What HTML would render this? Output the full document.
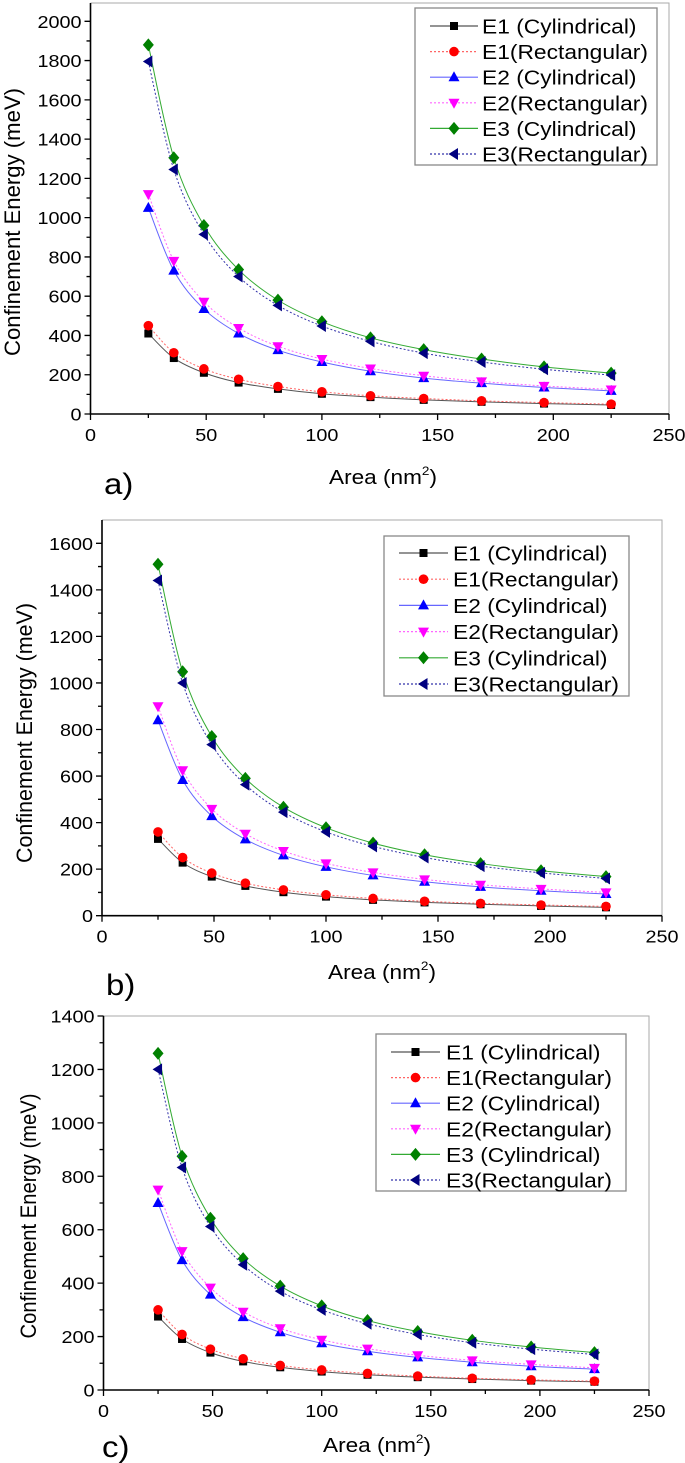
<!DOCTYPE html>
<html><head><meta charset="utf-8"><style>
html,body{margin:0;padding:0;background:#fff;}
svg{display:block;font-family:"Liberation Sans",Arial,sans-serif;}
</style></head><body>
<svg id="fig" width="685" height="1463" viewBox="0 0 685 1463" xmlns="http://www.w3.org/2000/svg"></svg>
<script>
const areas = [25,36,49,64,81,100,121,144,169,196,225];
const seriesNames = ["E1 (Cylindrical)","E1(Rectangular)","E2 (Cylindrical)","E2(Rectangular)","E3 (Cylindrical)","E3(Rectangular)"];
const a_E1C = [410,285,210,160,128,103,86,72,62,53,46];
const a_E1R = [450,312,230,177,140,113,93,79,67,58,50];
const a_E2C = [1050,730,535,410,325,265,218,183,157,135,118];
const a_E2R = [1120,780,572,438,345,280,232,195,166,143,125];
const a_E3C = [1880,1305,960,735,580,470,388,328,280,240,208];
const a_E3R = [1795,1245,915,700,553,448,370,310,265,228,198];
const b_E1C = [330,228,168,128,101,82,68,57,49,42,36];
const b_E1R = [360,250,183,140,111,90,74,62,53,46,40];
const b_E2C = [840,583,428,328,259,210,173,146,124,107,93];
const b_E2R = [900,625,459,352,278,225,186,156,133,115,100];
const b_E3C = [1510,1048,770,590,466,378,312,262,224,193,168];
const b_E3R = [1440,1000,735,563,445,360,298,250,213,184,160];
const c_E1C = [275,191,140,107,85,69,57,48,41,35,31];
const c_E1R = [300,208,153,117,92,75,62,52,44,38,33];
const c_E2C = [700,486,357,273,216,175,145,122,104,89,78];
const c_E2R = [750,520,383,293,231,188,155,130,111,96,83];
const c_E3C = [1260,875,643,492,389,315,260,219,186,161,140];
const c_E3R = [1200,833,612,469,370,300,248,208,177,153,133];
const xTicks = [0,50,100,150,200,250];
const a_yTicks = [0,200,400,600,800,1000,1200,1400,1600,1800,2000];
const b_yTicks = [0,200,400,600,800,1000,1200,1400,1600];
const c_yTicks = [0,200,400,600,800,1000,1200,1400];

const NS="http://www.w3.org/2000/svg";
const svg=document.getElementById('fig');
function mk(tag,attrs,parent){const e=document.createElementNS(NS,tag);for(const k in attrs)e.setAttribute(k,attrs[k]);(parent||svg).appendChild(e);return e;}
function txt(parent,x,y,s,size,anchor,sx,name){
  const t=mk('text',{x:0,y:0,'font-size':size,'text-anchor':anchor||'start',fill:'#000',transform:`translate(${x},${y}) scale(${sx||1.13},1)`},parent);
  t.textContent=s;
  
  
  return t;
}
const styles=[
 {color:'#000',line:'#555',dash:'',marker:'square'},
 {color:'#f00',line:'#f66',dash:'2,2',marker:'circle'},
 {color:'#00f',line:'#66f',dash:'',marker:'tri-up'},
 {color:'#f0f',line:'#f6f',dash:'2,2',marker:'tri-down'},
 {color:'#008000',line:'#3a3',dash:'',marker:'diamond'},
 {color:'#000080',line:'#33a',dash:'2,2',marker:'tri-left'}
];
const keys=['e1-cyl','e1-rect','e2-cyl','e2-rect','e3-cyl','e3-rect'];
function marker(g,m,x,y,c){
  let e;
  if(m==='square')e=mk('rect',{x:x-4,y:y-4,width:8,height:8,fill:c},g);
  else if(m==='circle')e=mk('circle',{cx:x,cy:y,r:4.8,fill:c},g);
  else if(m==='tri-up')e=mk('polygon',{points:`${x},${y-6} ${x-5.5},${y+4} ${x+5.5},${y+4}`,fill:c},g);
  else if(m==='tri-down')e=mk('polygon',{points:`${x},${y+6} ${x-5.5},${y-4} ${x+5.5},${y-4}`,fill:c},g);
  else if(m==='diamond')e=mk('polygon',{points:`${x},${y-6.5} ${x+5.5},${y} ${x},${y+6.5} ${x-5.5},${y}`,fill:c},g);
  else e=mk('polygon',{points:`${x-5.5},${y} ${x+4},${y-6} ${x+4},${y+6}`,fill:c},g);
  return e;
}
function smooth(pts){
  let d=`M${pts[0][0]},${pts[0][1]}`;
  for(let i=0;i<pts.length-1;i++){
    const p0=pts[Math.max(0,i-1)],p1=pts[i],p2=pts[i+1],p3=pts[Math.min(pts.length-1,i+2)];
    const c1=[p1[0]+(p2[0]-p0[0])/6,p1[1]+(p2[1]-p0[1])/6];
    const c2=[p2[0]-(p3[0]-p1[0])/6,p2[1]-(p3[1]-p1[1])/6];
    d+=` C${c1[0]},${c1[1]} ${c2[0]},${c2[1]} ${p2[0]},${p2[1]}`;
  }
  return d;
}
function panel(cfg){
  const g=mk('g',{});
  
  
  const X=v=>cfg.x0+(v-0)*(cfg.x1-cfg.x0)/250;
  const Y=v=>cfg.y0-(v)*(cfg.y0-cfg.yTop)/cfg.yMax;
  const top=cfg.frameTop;
  const fr=mk('path',{d:`M${cfg.x0},${top} H${cfg.x1} V${cfg.y0}`,stroke:'#aaa','stroke-width':1,fill:'none'},g);
  
  
  cfg.series.forEach((vals,si)=>{
    const st=styles[si];
    const sg=mk('g',{},g);
    
    
    const pts=areas.map((a,i)=>[X(a),Y(vals[i])]);
    const p=mk('path',{d:smooth(pts),stroke:st.line,'stroke-width':1,fill:'none','stroke-dasharray':st.dash},sg);
    
    
    pts.forEach(pt=>{
      const m=marker(sg,st.marker,pt[0],pt[1],st.color);
      
      
    });
  });
  const ax=mk('path',{d:`M${cfg.x0},${top} V${cfg.y0} H${cfg.x1}`,stroke:'#000','stroke-width':1.6,fill:'none'},g);
  
  
  let td='';
  for(let v=0;v<=250;v+=25){td+=`M${X(v)},${cfg.y0} v${v%50===0?6:4} `;}
  for(let v=0;v<=cfg.yMax+1;v+=100){td+=`M${cfg.x0},${Y(v)} h${v%200===0?-6:-4} `;}
  const tk=mk('path',{d:td,stroke:'#000','stroke-width':1.3},g);
  
  
  xTicks.forEach(v=>txt(g,X(v),cfg.y0+27,String(v),18,'middle',1.1,'x-tick-label'));
  cfg.yTicks.forEach(v=>txt(g,cfg.x0-9,Y(v)+6.5,String(v),18,'end',1.1,'y-tick-label'));
  const yt=mk('text',{x:0,y:0,'font-size':22,'text-anchor':'middle',transform:`translate(${cfg.ytx},${cfg.yty}) rotate(-90)`,textLength:cfg.ytLen,lengthAdjust:'spacingAndGlyphs'},g);
  yt.textContent='Confinement Energy (meV)';
  
  
  const xt=mk('text',{x:0,y:0,'font-size':20,'text-anchor':'middle',transform:`translate(${cfg.xtx},${cfg.xty}) scale(1.13,1)`},g);
  xt.innerHTML='Area (nm<tspan dy="-9" font-size="12">2</tspan><tspan dy="9">)</tspan>';
  
  
  txt(g,cfg.lblx,cfg.lbly,cfg.id+')',30,'start',1.1,'panel-label');
  const L=cfg.leg;
  const lg=mk('g',{},g);
  
  
  const box=mk('rect',{x:L.x,y:L.y,width:L.w,height:L.h,fill:'#fff',stroke:'#888','stroke-width':1.3},lg);
  
  
  seriesNames.forEach((n,i)=>{
    const st=styles[i];const ry=L.y+L.r0+i*L.dy;
    const eg=mk('g',{},lg);
    
    
    mk('line',{x1:L.lx0,x2:L.lx1,y1:ry,y2:ry,stroke:st.line,'stroke-width':1.2,'stroke-dasharray':st.dash},eg);
    marker(eg,st.marker,(L.lx0+L.lx1)/2,ry,st.color);
    txt(eg,L.tx,ry+7.5,n,20,'start',1.14,'legend-label');
  });
}
panel({id:'a',x0:90.5,x1:669,y0:414,yTop:21.3,yMax:2000,frameTop:3,yTicks:a_yTicks,series:[a_E1C,a_E1R,a_E2C,a_E2R,a_E3C,a_E3R],
  ytx:20,yty:222,ytLen:268,xtx:383,xty:484,lblx:104,lbly:494,
  leg:{x:415,y:8,w:242,h:157,r0:18,dy:25.6,lx0:430,lx1:478,tx:482}});
panel({id:'b',x0:102,x1:662,y0:915.7,yTop:543.3,yMax:1600,frameTop:520,yTicks:b_yTicks,series:[b_E1C,b_E1R,b_E2C,b_E2R,b_E3C,b_E3R],
  ytx:32,yty:733,ytLen:260,xtx:382,xty:979,lblx:106,lbly:995,
  leg:{x:384,y:536,w:245,h:160,r0:17,dy:26.2,lx0:399,lx1:448,tx:453}});
panel({id:'c',x0:103.5,x1:649,y0:1390,yTop:1016,yMax:1400,frameTop:1016,yTicks:c_yTicks,series:[c_E1C,c_E1R,c_E2C,c_E2R,c_E3C,c_E3R],
  ytx:36,yty:1216,ytLen:245,xtx:377,xty:1452,lblx:102,lbly:1457,
  leg:{x:376,y:1034,w:250,h:157,r0:18,dy:25.6,lx0:391,lx1:440,tx:446}});
</script>
</body></html>
